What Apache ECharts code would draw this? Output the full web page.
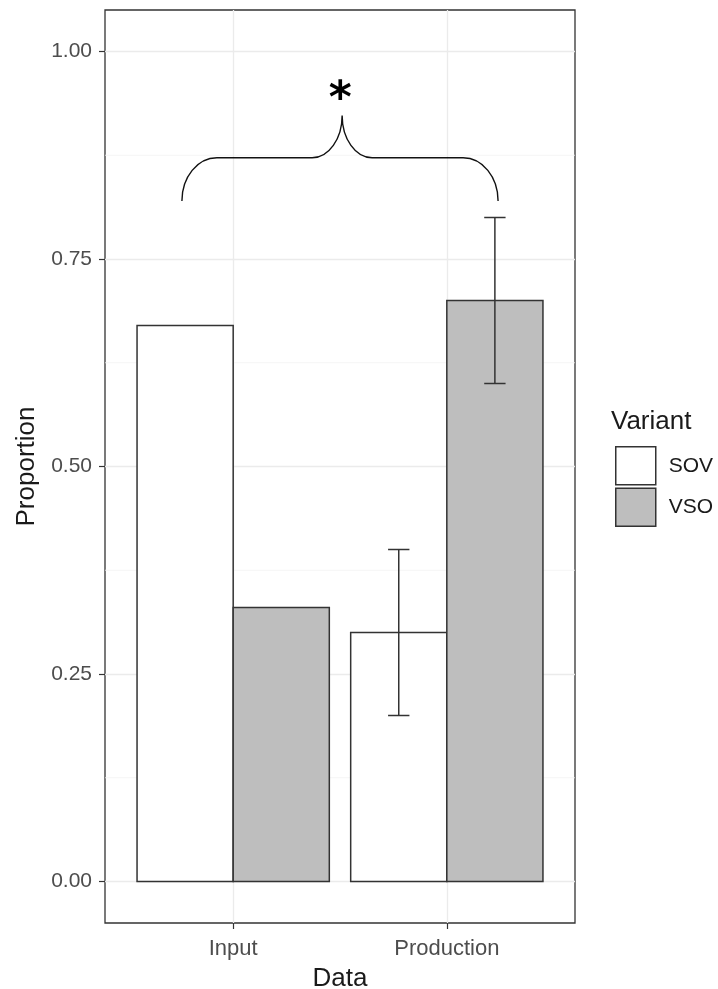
<!DOCTYPE html>
<html>
<head>
<meta charset="utf-8">
<script src="https://cdn.jsdelivr.net/npm/echarts@6/dist/echarts.min.js"></script>
<style>
  html, body { margin: 0; padding: 0; background: #fff; }
  #chart { width: 718px; height: 989px; }
</style>
</head>
<body>
<div id="chart"></div>
<script>
// Proportion of word-order variants in the input vs. in learners' production
const categories = ['Input', 'Production'];
const variants = ['SOV', 'VSO'];
const sovValues = [0.67, 0.30];
const vsoValues = [0.33, 0.70];
const sovErrLow = [null, 0.20];
const sovErrHigh = [null, 0.40];
const vsoErrLow = [null, 0.60];
const vsoErrHigh = [null, 0.80];
const yTicks = [0, 0.25, 0.5, 0.75, 1];
const yMinorTicks = [0.125, 0.375, 0.625, 0.875];
const xTicks = [1, 2];
// significance brace: x of both ends, x of the tip, y of ends / bar / tip
const braceEnds = [0.76, 2.24];
const braceTipX = 1.51;
const braceLevels = [0.82, 0.872, 0.923];
const sigLabel = '*';

const FONT = 'Liberation Sans, Arial, Helvetica, sans-serif';
const DODGE = 0.45;      // bar width in category units
const ERR_W = 0.1;       // error bar cap width
const STROKE = '#333333';
const fills = { SOV: '#ffffff', VSO: '#bebebe' };

function barSeries(name, values, lows, highs, offset) {
  return {
    name: name,
    type: 'custom',
    z: 3,
    data: values.map((v, i) => [i + 1, v]),
    renderItem: function (params, api) {
      const i = params.dataIndex;
      const xc = api.value(0) + offset;
      const v = api.value(1);
      const p0 = api.coord([xc - DODGE / 2, 0]);
      const p1 = api.coord([xc + DODGE / 2, v]);
      const children = [{
        type: 'rect',
        shape: { x: p0[0], y: p1[1], width: p1[0] - p0[0], height: p0[1] - p1[1] },
        style: { fill: fills[name], stroke: STROKE, lineWidth: 1.5 }
      }];
      if (lows[i] != null && highs[i] != null) {
        const lo = api.coord([xc, lows[i]]);
        const hi = api.coord([xc, highs[i]]);
        const cl = api.coord([xc - ERR_W / 2, lows[i]]);
        const cr = api.coord([xc + ERR_W / 2, highs[i]]);
        const st = { stroke: STROKE, lineWidth: 1.5 };
        children.push(
          { type: 'line', shape: { x1: lo[0], y1: lo[1], x2: hi[0], y2: hi[1] }, style: st },
          { type: 'line', shape: { x1: cl[0], y1: lo[1], x2: cr[0], y2: lo[1] }, style: st },
          { type: 'line', shape: { x1: cl[0], y1: hi[1], x2: cr[0], y2: hi[1] }, style: st }
        );
      }
      return { type: 'group', children: children };
    }
  };
}

const minorGridSeries = {
  name: 'minor-grid',
  type: 'custom',
  silent: true,
  z: 1,
  data: yMinorTicks.map(v => [v]),
  renderItem: function (params, api) {
    const cs = params.coordSys;
    const y = api.coord([1, api.value(0)])[1];
    return {
      type: 'line',
      shape: { x1: cs.x, y1: y, x2: cs.x + cs.width, y2: y },
      style: { stroke: '#f2f2f2', lineWidth: 0.8 }
    };
  }
};

const braceSeries = {
  name: 'brace',
  type: 'custom',
  silent: true,
  z: 4,
  data: [[braceTipX, braceLevels[2]]],
  renderItem: function (params, api) {
    const L = api.coord([braceEnds[0], braceLevels[0]]);
    const R = api.coord([braceEnds[1], braceLevels[0]]);
    const T = api.coord([braceTipX, braceLevels[2]]);
    const yb = api.coord([braceTipX, braceLevels[1]])[1];
    const k = 0.552;
    const re = 35, rt = 30;
    const hL = L[1] - yb, hT = yb - T[1], hR = R[1] - yb;
    const d = [
      'M', L[0], L[1],
      'C', L[0], L[1] - hL * k, L[0] + re - re * k, yb, L[0] + re, yb,
      'L', T[0] - rt, yb,
      'C', T[0] - rt + rt * k, yb, T[0], T[1] + hT * k, T[0], T[1],
      'C', T[0], T[1] + hT * k, T[0] + rt - rt * k, yb, T[0] + rt, yb,
      'L', R[0] - re, yb,
      'C', R[0] - re + re * k, yb, R[0], R[1] - hR * k, R[0], R[1]
    ].join(' ');
    return {
      type: 'group',
      children: [
        { type: 'path', shape: { pathData: d }, style: { fill: 'none', stroke: '#111', lineWidth: 1.4 } },
        {
          type: 'text', x: T[0] - 2, y: T[1] - 15,
          style: { text: sigLabel, font: 'bold 44px DejaVu Sans, sans-serif', fill: '#000', align: 'center', verticalAlign: 'middle' }
        }
      ]
    };
  }
};

const chart = echarts.init(document.getElementById('chart'), null, { renderer: 'canvas' });
chart.setOption({
  animation: false,
  backgroundColor: '#ffffff',
  textStyle: { fontFamily: FONT },
  title: {
    text: 'Variant',
    left: 611, top: 409, padding: 0,
    textStyle: { fontSize: 26, fontWeight: 'normal', color: '#1a1a1a', fontFamily: FONT }
  },
  legend: {
    orient: 'vertical',
    left: 615, top: 446,
    padding: 0,
    itemWidth: 40, itemHeight: 38, itemGap: 2,
    selectedMode: false,
    data: [
      { name: 'SOV', icon: 'rect', itemStyle: { color: fills.SOV, borderColor: STROKE, borderWidth: 1.5 } },
      { name: 'VSO', icon: 'rect', itemStyle: { color: fills.VSO, borderColor: STROKE, borderWidth: 1.5 } }
    ],
    textStyle: { fontSize: 21, color: '#1a1a1a', fontFamily: FONT, padding: [0, 0, 0, 8] }
  },
  grid: {
    left: 105, right: 143, top: 10, bottom: 66,
    containLabel: false, outerBoundsMode: 'none',
    show: true, borderColor: STROKE, borderWidth: 1.3, backgroundColor: '#ffffff'
  },
  xAxis: {
    type: 'value',
    min: 0.4, max: 2.6,
    name: 'Data', nameLocation: 'middle', nameGap: 43,
    nameTextStyle: { fontSize: 26, color: '#1a1a1a', fontFamily: FONT },
    axisLine: { show: false, onZero: false },
    axisTick: { show: true, length: 6, customValues: xTicks, lineStyle: { color: STROKE, width: 1.2 } },
    axisLabel: {
      customValues: xTicks, margin: 15, fontSize: 22, color: '#4d4d4d', fontFamily: FONT,
      formatter: v => categories[Math.round(v) - 1]
    },
    splitLine: { show: true, lineStyle: { color: '#ebebeb', width: 1.3 } }
  },
  yAxis: {
    type: 'value',
    min: -0.05, max: 1.05,
    name: 'Proportion', nameLocation: 'middle', nameGap: 64,
    nameTextStyle: { fontSize: 26, color: '#1a1a1a', fontFamily: FONT },
    axisLine: { show: false, onZero: false },
    axisTick: { show: true, length: 6, customValues: yTicks, lineStyle: { color: STROKE, width: 1.2 } },
    axisLabel: {
      customValues: yTicks, margin: 13, fontSize: 21, color: '#4d4d4d', fontFamily: FONT,
      formatter: v => v.toFixed(2)
    },
    splitLine: { show: true, lineStyle: { color: '#ebebeb', width: 1.3 } }
  },
  series: [
    minorGridSeries,
    barSeries('SOV', sovValues, sovErrLow, sovErrHigh, -DODGE / 2),
    barSeries('VSO', vsoValues, vsoErrLow, vsoErrHigh, DODGE / 2),
    braceSeries
  ]
});
</script>
</body>
</html>
